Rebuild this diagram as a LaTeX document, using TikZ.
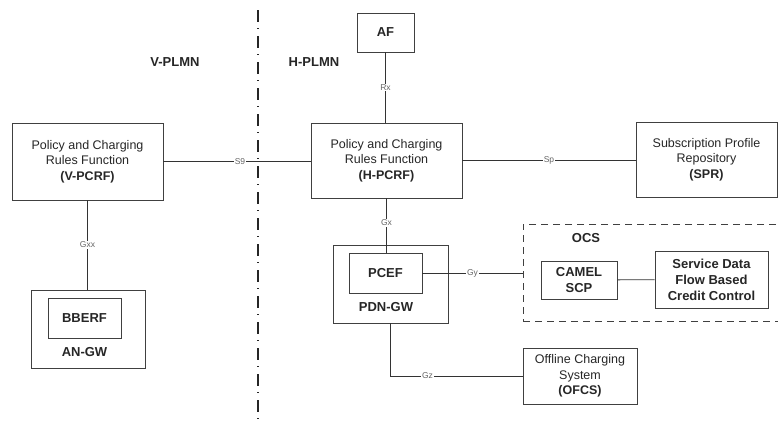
\documentclass[tikz,border=0pt]{standalone}
\usepackage{fontspec}
\setmainfont{Liberation Sans}
\begin{document}
\begin{tikzpicture}[x=1pt,y=-1pt,
  box/.style={draw=black!75,line width=0.7pt,align=center,inner sep=0pt,
    text=black!85,font=\fontsize{12.5}{15.5}\selectfont},
  boldbox/.style={box,font=\fontsize{13}{16}\selectfont\bfseries},
  iface/.style={fill=white,inner sep=1pt,text=black!60,
    font=\fontsize{8.5}{9}\selectfont},
  link/.style={draw=black!80,line width=0.8pt},
  netname/.style={text=black!85,font=\fontsize{13}{15}\selectfont\bfseries}]
  \useasboundingbox (0,0) rectangle (778,423);
  % 网络分界线
  \draw[black!85,line width=1.2pt,dash pattern=on 12pt off 6pt on 1pt off 7pt]
    (258,10) -- (258,423);
  \node[netname] (vplmn) at (175,62) {V-PLMN};
  \node[netname] (hplmn) at (314,62) {H-PLMN};
  % 策略与计费规则功能
  \node[box,minimum width=151pt,minimum height=77pt] (vpcrf) at (87.5,161.5)
    {Policy and Charging\\Rules Function\\\textbf{(V-PCRF)}};
  \node[box,minimum width=151pt,minimum height=75pt] (hpcrf) at (386.5,160.5)
    {Policy and Charging\\Rules Function\\\textbf{(H-PCRF)}};
  \node[box,minimum width=141pt,minimum height=75pt] (spr) at (706.5,159.5)
    {Subscription Profile\\Repository\\\textbf{(SPR)}};
  \node[boldbox,minimum width=57pt,minimum height=39pt] (af) at (385.5,32.5) {AF};
  % 网关
  \node[box,minimum width=114pt,minimum height=78pt] (angw) at (88,329) {};
  \node[boldbox,minimum width=73pt,minimum height=40pt] (bberf) at (84.5,318) {BBERF};
  \node[netname] (angwname) at (84.5,352) {AN-GW};
  \node[box,minimum width=115pt,minimum height=78pt] (pdngw) at (390.5,284) {};
  \node[boldbox,minimum width=73pt,minimum height=40pt] (pcef) at (385.5,273) {PCEF};
  \node[netname] (pdngwname) at (386,307) {PDN-GW};
  % 在线计费系统
  \node[box,dash pattern=on 7pt off 5pt,minimum width=258pt,minimum height=97pt]
    (ocs) at (652,272.5) {};
  \node[netname] (ocsname) at (586,238) {OCS};
  \node[boldbox,minimum width=76pt,minimum height=38pt] (camel) at (579,280)
    {CAMEL\\SCP};
  \node[boldbox,minimum width=113pt,minimum height=57pt] (sdf) at (711.5,279.5)
    {Service Data\\Flow Based\\Credit Control};
  % 离线计费系统
  \node[box,minimum width=114pt,minimum height=56pt] (ofcs) at (580,376)
    {Offline Charging\\System\\\textbf{(OFCS)}};
  % 接口
  \draw[link] (af.south) -- node[iface] {Rx} (af.south |- hpcrf.north);
  \draw[link] (vpcrf.east) -- node[iface,pos=0.52] {S9} (vpcrf.east -| hpcrf.west);
  \draw[link] (hpcrf.east) -- node[iface] {Sp} (hpcrf.east -| spr.west);
  \draw[link] (vpcrf.south) -- node[iface] {Gxx} (vpcrf.south |- angw.north);
  \draw[link] (hpcrf.south) -- node[iface,pos=0.45] {Gx} (hpcrf.south |- pcef.north);
  \draw[link] (pcef.east) -- node[iface] {Gy} (pcef.east -| ocs.west);
  \draw[link] (camel) -- (sdf);
  \draw[link] (pdngw.south) |- node[iface,pos=0.64] {Gz} (ofcs.west);
\end{tikzpicture}
\end{document}
